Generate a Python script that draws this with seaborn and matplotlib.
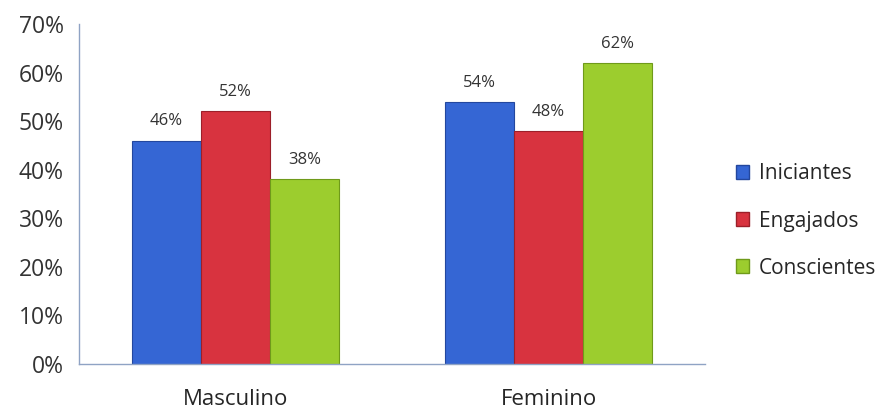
import matplotlib
matplotlib.use("Agg")
import matplotlib.pyplot as plt
import seaborn as sns
import pandas as pd
from matplotlib.patches import Patch
from matplotlib.ticker import FuncFormatter

# Share of each profile by gender
generos = ["Masculino", "Feminino"]
perfis = ["Iniciantes", "Engajados", "Conscientes"]
iniciantes = [46, 54]
engajados = [52, 48]
conscientes = [38, 62]

cores = {"Iniciantes": "#3566d4", "Engajados": "#d8333f", "Conscientes": "#9ccd2e"}
bordas = {"Iniciantes": "#23479e", "Engajados": "#9c1f29", "Conscientes": "#6f9a1a"}

df = pd.DataFrame({
    "genero": generos * 3,
    "perfil": [p for p in perfis for _ in generos],
    "valor": iniciantes + engajados + conscientes,
})

sns.set_theme(style="white")
plt.rcParams["font.family"] = ["Open Sans", "DejaVu Sans"]

fig = plt.figure(figsize=(8.95, 4.17), dpi=100)
ax = fig.add_axes([0.0883, 0.1271, 0.6994, 0.8153])

sns.barplot(data=df, x="genero", y="valor", hue="perfil", order=generos,
            hue_order=perfis, palette=cores, width=0.66, saturation=1,
            legend=False, ax=ax)

for container, perfil in zip(ax.containers, perfis):
    for bar in container:
        bar.set_edgecolor(bordas[perfil])
        bar.set_linewidth(0.8)
    ax.bar_label(container, labels=[f"{int(round(v))}%" for v in container.datavalues],
                 padding=8, fontsize=12, color="#333333")

ax.set_ylim(0, 70)
ax.set_xlim(-0.5, 1.5)
ax.set_yticks(range(0, 71, 10))
ax.yaxis.set_major_formatter(FuncFormatter(lambda v, _: f"{int(v)}%"))
ax.set_xlabel("")
ax.set_ylabel("")

# category boundaries carry the x tick marks, names sit at the centers
ax.set_xticks([-0.5, 0.5, 1.5], minor=True)
ax.tick_params(axis="x", which="major", length=0, labelsize=16, colors="#262626", pad=18)
ax.tick_params(axis="x", which="minor", length=6, color="#8fa3c4", direction="out")
ax.tick_params(axis="y", length=6, color="#8fa3c4", direction="out", labelsize=16.5,
               colors="#333333", pad=5)

for side in ["top", "right"]:
    ax.spines[side].set_visible(False)
for side in ["left", "bottom"]:
    ax.spines[side].set_color("#8fa3c4")
    ax.spines[side].set_linewidth(1.0)

handles = [Patch(facecolor=cores[p], edgecolor=bordas[p], label=p) for p in perfis]
fig.legend(handles=handles, loc="center left", bbox_to_anchor=(0.822, 0.47),
           frameon=False, fontsize=15, handlelength=0.65, handleheight=0.65,
           handletextpad=0.45, labelspacing=1.25, borderpad=0, borderaxespad=0,
           labelcolor="#262626")

fig.savefig("out.png", dpi=100)
